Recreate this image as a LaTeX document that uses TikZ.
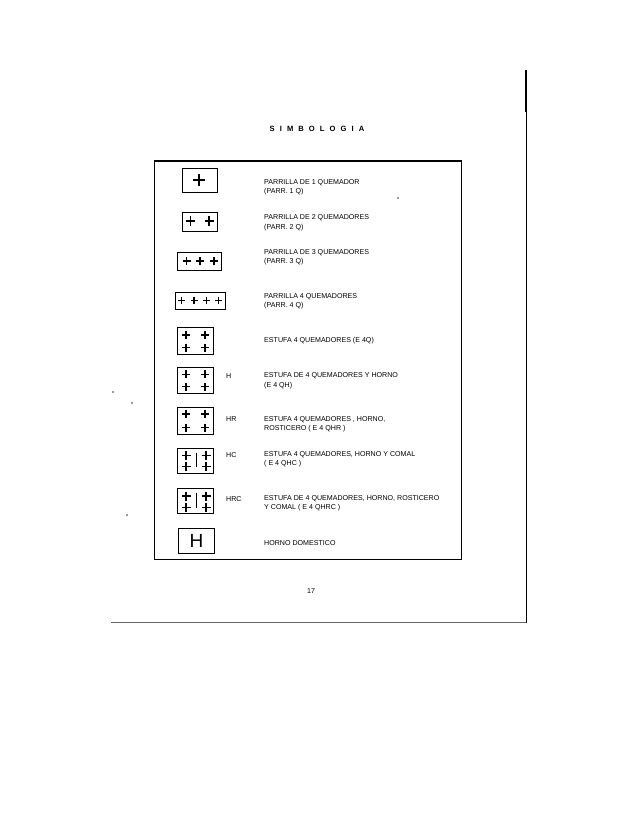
\documentclass[tikz,border=0pt]{standalone}
\usepackage{fontspec}
\setmainfont{Liberation Sans}
\usepackage{tikz}
\usetikzlibrary{positioning}
\newcommand{\burner}[3]{\draw[burnerline] (#1-#3,#2) -- (#1+#3,#2) (#1,#2-#3) -- (#1,#2+#3);}
\begin{document}
\begin{tikzpicture}[
        x=1pt, y=-1pt,
        symb/.style = {draw, rectangle, inner sep=0pt, line width=1.1pt, anchor=north west},
        lbl/.style = {anchor=west, align=left, inner sep=0pt, font=\fontsize{7.1}{9.4}\selectfont},
        tag/.style = {anchor=west, inner sep=0pt, font=\fontsize{7.1}{9}\selectfont},
        burnerline/.style = {line width=1.2pt},
        speck/.style = {circle, fill=black!80, inner sep=0pt, minimum size=1.6pt},
    ]
        \useasboundingbox (0,0) rectangle (638,826);

        \node[font=\bfseries\fontsize{7.6}{9}\selectfont, inner sep=0pt] (title) at (317,129) {S\,\,\,\,I\,\,\,\,M\,\,\,\,B\,\,\,\,O\,\,\,\,L\,\,\,\,O\,\,\,\,G\,\,\,\,I\,\,\,\,A};

        \node[draw, rectangle, line width=1.1pt, minimum width=307pt, minimum height=398.5pt, inner sep=0pt, anchor=north west] (frame) at (154,160.5) {};

        \node[symb, minimum width=35pt, minimum height=24pt] (s1) at (181.7,168.3) {};
        \node[symb, minimum width=35pt, minimum height=19.5pt] (s2) at (181.7,211.7) {};
        \node[symb, minimum width=44.6pt, minimum height=17.7pt] (s3) at (176.7,252.3) {};
        \node[symb, minimum width=49.4pt, minimum height=16.7pt] (s4) at (175.3,292.3) {};
        \node[symb, minimum width=36.6pt, minimum height=27.3pt] (s5) at (176.7,327) {};
        \node[symb, minimum width=36.6pt, minimum height=26.6pt] (s6) at (176.7,366.7) {};
        \node[symb, minimum width=36.6pt, minimum height=26.7pt] (s7) at (176.7,407.3) {};
        \node[symb, minimum width=36.6pt, minimum height=25.3pt] (s8) at (176.7,448) {};
        \node[symb, minimum width=36.6pt, minimum height=25pt] (s9) at (176.7,488.3) {};
        \node[symb, minimum width=35.7pt, minimum height=25.6pt, line width=0.8pt, font=\fontsize{19}{19}\selectfont] (s10) at (178.3,527.7) {H};

        \burner{199}{180}{6}
        \burner{190.3}{221}{4.5}
        \burner{209}{221}{4.5}
        \foreach \x in {186.7,200,214} {\burner{\x}{261}{4}}
        \foreach \x in {181.3,194,206.7,218.7} {\burner{\x}{300.3}{3.5}}
        \foreach \x in {186,205} {
            \burner{\x}{335}{4}
            \burner{\x}{347.7}{4}
            \burner{\x}{374.3}{4}
            \burner{\x}{386.7}{4}
            \burner{\x}{414}{4}
            \burner{\x}{427.7}{4}
        }
        \foreach \x in {186,206} {
            \burner{\x}{455.3}{4.5}
            \burner{\x}{466.7}{4.5}
            \burner{\x}{496}{4.5}
            \burner{\x}{507.7}{4.5}
        }
        \draw[line width=1pt] (196,453.3) -- (196,467.3);
        \draw[line width=1pt] (196,493.3) -- (196,508.3);

        \node[tag] (h) at (226,376) {H};
        \node[tag] (hr) at (226,419) {HR};
        \node[tag] (hc) at (226,455) {HC};
        \node[tag] (hrc) at (226,499) {HRC};

        \node[lbl] (l1) at (264,187.5) {PARRILLA DE 1 QUEMADOR\\(PARR. 1 Q)};
        \node[lbl] (l2) at (264,222.7) {PARRILLA DE 2 QUEMADORES\\(PARR. 2 Q)};
        \node[lbl] (l3) at (264,257.2) {PARRILLA DE 3 QUEMADORES\\(PARR. 3 Q)};
        \node[lbl] (l4) at (264,301.5) {PARRILLA 4 QUEMADORES\\(PARR. 4 Q)};
        \node[lbl] (l5) at (264,340.7) {ESTUFA 4 QUEMADORES (E 4Q)};
        \node[lbl] (l6) at (264,380.7) {ESTUFA DE 4 QUEMADORES Y HORNO\\(E 4 QH)};
        \node[lbl] (l7) at (264,424) {ESTUFA 4 QUEMADORES , HORNO,\\ROSTICERO ( E 4 QHR )};
        \node[lbl] (l8) at (264,459.4) {ESTUFA 4 QUEMADORES, HORNO Y COMAL\\( E 4 QHC )};
        \node[lbl] (l9) at (264,503) {ESTUFA DE 4 QUEMADORES, HORNO, ROSTICERO\\Y COMAL ( E 4 QHRC )};
        \node[lbl] (l10) at (264,543) {HORNO DOMESTICO};

        \node[font=\fontsize{7.1}{9}\selectfont, inner sep=0pt] (page) at (311,591) {17};

        \coordinate (top) at (526,70);
        \coordinate (thick) at (526,112);
        \coordinate (corner) at (526,622.8);
        \coordinate (end) at (111,622.8);
        \draw[line width=1.6pt] (top) -- (thick);
        \draw[line width=1pt] (thick) -- (corner);
        \draw[line width=1pt, black!60] (corner) -- (end);

        \node[speck] (d1) at (398,198) {};
        \node[speck] (d2) at (113,392) {};
        \node[speck] (d3) at (132,403) {};
        \node[speck] (d4) at (127,515) {};
    \end{tikzpicture}
\end{document}
